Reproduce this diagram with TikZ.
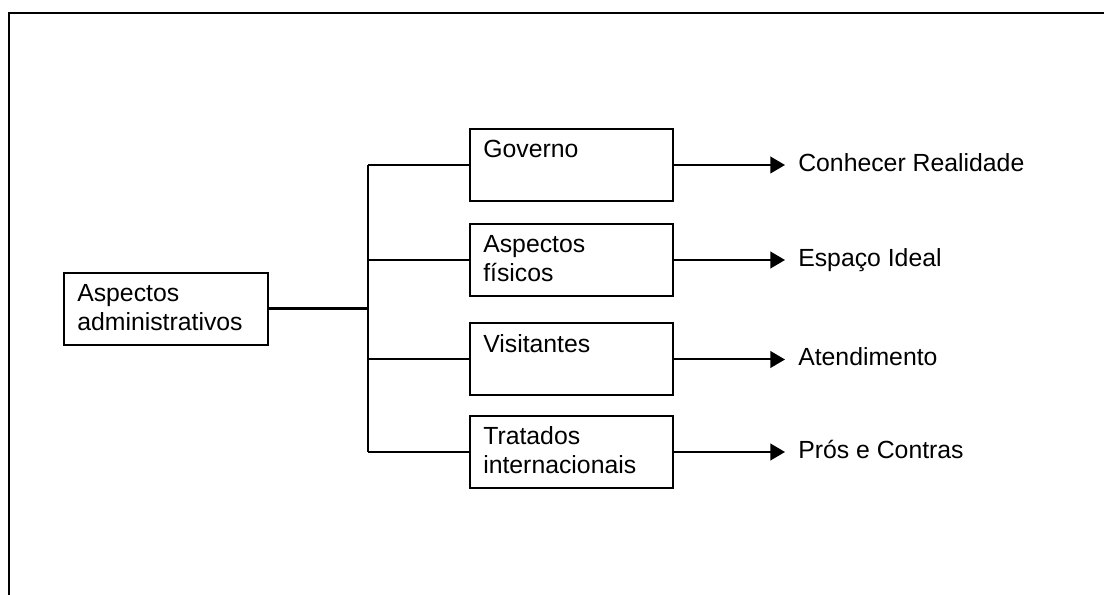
\documentclass[tikz,border=0pt]{standalone}
\usepackage{fontspec}
\setmainfont{Liberation Sans}
\usetikzlibrary{arrows.meta, positioning}

\begin{document}
\begin{tikzpicture}[x=0.75pt,y=-0.75pt,
    caixa/.style={draw,line width=1.5pt,minimum width=152.25pt,minimum height=54pt,inner sep=0pt},
    texto/.style={inner sep=0pt,align=left,anchor=base west,font=\fontsize{18.6}{21.75}\selectfont},
    saida/.style={inner sep=0pt,anchor=west,text height=9.75pt,text depth=0pt,font=\fontsize{18.6}{21.75}\selectfont},
    liga/.style={line width=1.5pt},
    seta/.style={line width=1.5pt,-{Triangle[length=11pt,width=12.5pt]},shorten >=9.75pt}]
            \useasboundingbox (0,0) rectangle (1104,595);
            \draw[line width=1.5pt] (1104,13) --(9,13) --(9,595); %moldura
            % caixas
            \node[caixa,minimum width=153pt] (adm) at (166,309) {};
            \node[caixa] (gov) at (571.5,165) {};
            \node[caixa] (fis) at (571.5,260) {};
            \node[caixa] (vis) at (571.5,359.5) {};
            \node[caixa] (trat) at (571.5,452) {};
            % textos (base na ultima linha)
            \node[texto] (adm-t) at ([xshift=10.5pt,yshift=-44.25pt]adm.north west) {Aspectos\\administrativos};
            \node[texto] (gov-t) at ([xshift=10.5pt,yshift=-22.5pt]gov.north west) {Governo};
            \node[texto] (fis-t) at ([xshift=10.5pt,yshift=-44.25pt]fis.north west) {Aspectos\\físicos};
            \node[texto] (vis-t) at ([xshift=10.5pt,yshift=-22.5pt]vis.north west) {Visitantes};
            \node[texto] (trat-t) at ([xshift=10.5pt,yshift=-44.25pt]trat.north west) {Tratados\\internacionais};
            % resultados
            \node[saida] (conh) at (798,165) {Conhecer Realidade};
            \node[saida] (esp) at (798,260) {Espaço Ideal};
            \node[saida] (aten) at (798,359.5) {Atendimento};
            \node[saida] (pros) at (798,452) {Prós e Contras};
            % ligações
            \coordinate (bus) at (368,309);
            \draw[line width=2.25pt] (adm.east) --(bus);
            \draw[liga] (bus |- gov.west) --(bus |- trat.west);
            \foreach \c in {gov,fis,vis,trat}
                \draw[liga] (bus |- \c.west) --(\c.west);
            \draw[seta] (gov.east) --(conh.west);
            \draw[seta] (fis.east) --(esp.west);
            \draw[seta] (vis.east) --(aten.west);
            \draw[seta] (trat.east) --(pros.west);
        \end{tikzpicture}
\end{document}
